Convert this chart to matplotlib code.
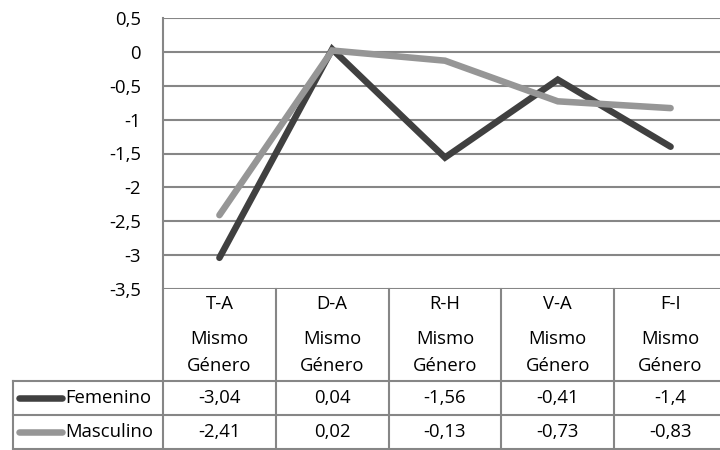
import matplotlib
matplotlib.use("Agg")
import matplotlib.pyplot as plt
from matplotlib.transforms import blended_transform_factory

categorias = ["T-A", "D-A", "R-H", "V-A", "F-I"]
subtitulo = ["Mismo", "Género"]
femenino = [-3.04, 0.04, -1.56, -0.41, -1.4]
masculino = [-2.41, 0.02, -0.13, -0.73, -0.83]
yticks = [0.5, 0, -0.5, -1, -1.5, -2, -2.5, -3, -3.5]

plt.rcParams['font.family'] = ['Open Sans', 'DejaVu Sans']
W, H = 720, 450
fig = plt.figure(figsize=(7.2, 4.5), dpi=100)

# pixel-space overlay for the data table
ov = fig.add_axes([0, 0, 1, 1])
ov.set_xlim(0, W)
ov.set_ylim(H, 0)
ov.axis("off")

# plot area (right edge runs slightly past the figure)
left, right, top, bottom = 163, 727, 18, 289
ax = fig.add_axes([left / W, 1 - bottom / H, (right - left) / W, (bottom - top) / H])
ax.set_xlim(-0.5, len(categorias) - 0.5)
ax.set_ylim(-3.5, 0.5)
ax.set_yticks(yticks)
fs = 13.3
ax.set_yticklabels([f"{v:g}".replace(".", ",") for v in yticks], fontsize=fs)
ax.set_xticks([])
ax.tick_params(axis="y", length=0, pad=16)
for s in ["top", "right", "bottom"]:
    ax.spines[s].set_visible(False)
ax.spines["left"].set_color("#868686")
ax.spines["left"].set_linewidth(1.5)
ax.grid(axis="y", color="#868686", linewidth=1.5)
ax.set_axisbelow(True)
ax.patch.set_alpha(0)

c_fem, c_mas = "#404040", "#969696"
x = range(len(categorias))
ax.plot(x, femenino, color=c_fem, lw=4.7, solid_capstyle="round", solid_joinstyle="miter", clip_on=False)
ax.plot(x, masculino, color=c_mas, lw=4.7, solid_capstyle="round", solid_joinstyle="miter", clip_on=False)

# table: x from the category axis, y in pixels
tr = blended_transform_factory(ax.transData, ov.transData)
grid_kw = dict(color="#868686", lw=1.5, clip_on=False)
n = len(categorias)
for b in [i - 0.5 for i in range(n + 1)]:
    ov.plot([b, b], [bottom, 449], transform=tr, **grid_kw)
row_lines = [381, 415, 449]
for yy in row_lines:
    ov.plot([13, W + 10], [yy, yy], **grid_kw)
ov.plot([13, 13], [381, 449], **grid_kw)

for i, cat in enumerate(categorias):
    ov.text(i, 304, cat, transform=tr, ha="center", va="center", fontsize=fs)
    ov.text(i, 339, subtitulo[0], transform=tr, ha="center", va="center", fontsize=fs)
    ov.text(i, 366, subtitulo[1], transform=tr, ha="center", va="center", fontsize=fs)
    ov.text(i, 398, f"{femenino[i]:g}".replace(".", ","), transform=tr,
            ha="center", va="center", fontsize=fs)
    ov.text(i, 432, f"{masculino[i]:g}".replace(".", ","), transform=tr,
            ha="center", va="center", fontsize=fs)

# legend keys inside the table
for yy, col, name in [(398, c_fem, "Femenino"), (432, c_mas, "Masculino")]:
    ov.plot([19, 62], [yy, yy], color=col, lw=4.7, solid_capstyle="round")
    ov.text(65, yy, name, ha="left", va="center", fontsize=fs)

fig.savefig("out.png", dpi=100)
